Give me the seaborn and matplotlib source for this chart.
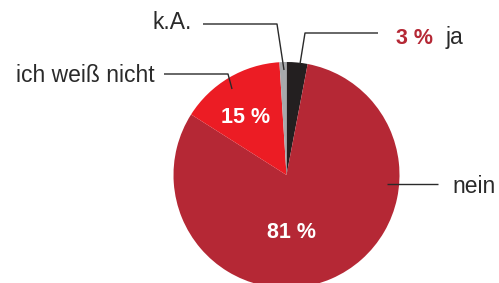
import matplotlib
matplotlib.use("Agg")
import matplotlib.pyplot as plt
import seaborn as sns

categories = ["ja", "nein", "ich weiß nicht", "k.A."]
values = [3, 81, 15, 1]
value_labels = ["3 %", "81 %", "15 %", ""]
colors = ["#231f20", "#b52835", "#ec1c24", "#a7a9ac"]

sns.set_theme(style="white")
plt.rcParams['font.family'] = ['Liberation Sans', 'DejaVu Sans']

fig = plt.figure(figsize=(4.99, 2.83), dpi=100)
ax = fig.add_axes([0, 0, 1, 1])

cx, cy, r = 286.5, 175, 113
# y axis is inverted below, so startangle -90 / counterclock=True gives
# a pie starting at 12 o'clock going clockwise on screen
ax.pie(values, colors=colors, startangle=-90, counterclock=True,
       center=(cx, cy), radius=r, frame=True,
       wedgeprops=dict(linewidth=0))
ax.set_xlim(0, 499)
ax.set_ylim(283, 0)
ax.set_aspect('equal')
ax.axis('off')

txt = "#2a2a2a"
fs = 16.5
fsb = 15.5
lw = 1.0
# k.A.
ax.text(192, 29, categories[3], ha='right', va='baseline', fontsize=fs, color=txt)
ax.plot([203, 277, 284], [24, 24, 70], color=txt, lw=lw, solid_capstyle='butt')
# ja
ax.text(396, 44, value_labels[0], ha='left', va='baseline', fontsize=fsb,
        color=colors[1], fontweight='bold')
ax.text(446, 44, categories[0], ha='left', va='baseline', fontsize=fs, color=txt)
ax.plot([378, 305, 300], [33, 33, 64], color=txt, lw=lw, solid_capstyle='butt')
# ich weiß nicht
ax.text(155, 82, categories[2], ha='right', va='baseline', fontsize=fs, color=txt)
ax.plot([164, 228, 232], [74, 74, 89], color=txt, lw=lw, solid_capstyle='butt')
# nein
ax.text(452, 193, categories[1], ha='left', va='baseline', fontsize=fs, color=txt)
ax.plot([387, 438], [184, 184], color=txt, lw=lw, solid_capstyle='butt')
# inner labels
ax.text(246, 123, value_labels[2], ha='center', va='baseline', fontsize=fsb,
        color='white', fontweight='bold')
ax.text(292, 238, value_labels[1], ha='center', va='baseline', fontsize=fsb,
        color='white', fontweight='bold')

fig.savefig("out.png", dpi=100)
